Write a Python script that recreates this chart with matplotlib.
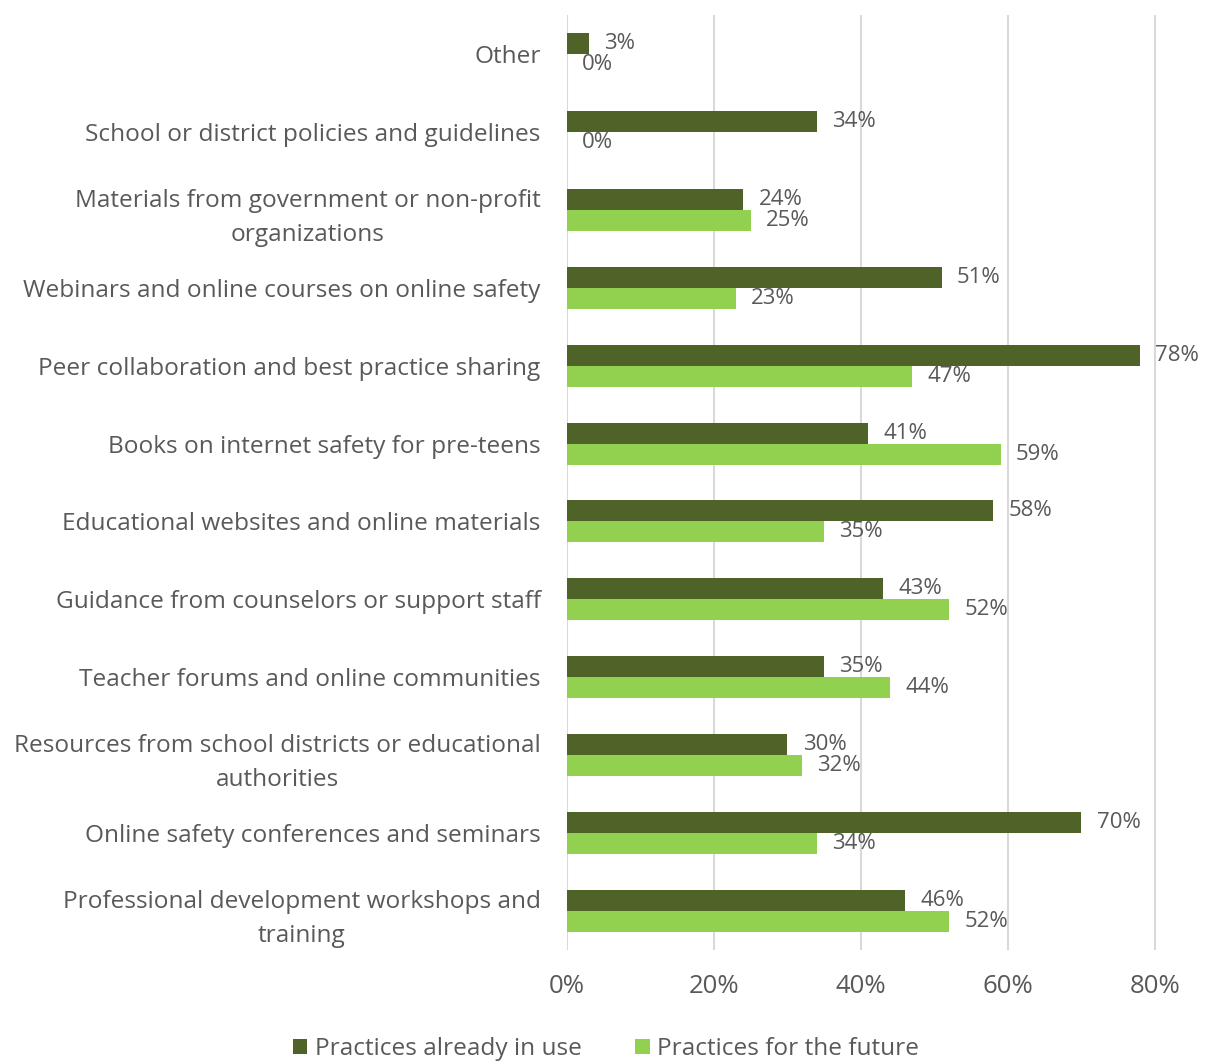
import matplotlib
matplotlib.use("Agg")
import matplotlib.pyplot as plt
import numpy as np
from matplotlib.ticker import FuncFormatter

plt.rcParams['font.family'] = ['Open Sans', 'DejaVu Sans']

categories = [
    "Other",
    "School or district policies and guidelines",
    "Materials from government or non-profit\norganizations",
    "Webinars and online courses on online safety",
    "Peer collaboration and best practice sharing",
    "Books on internet safety for pre-teens",
    "Educational websites and online materials",
    "Guidance from counselors or support staff",
    "Teacher forums and online communities",
    "Resources from school districts or educational\nauthorities",
    "Online safety conferences and seminars",
    "Professional development workshops and\ntraining",
]
in_use = [3, 34, 24, 51, 78, 41, 58, 43, 35, 30, 70, 46]
future = [0, 0, 25, 23, 47, 59, 35, 52, 44, 32, 34, 52]
series_names = ["Practices already in use", "Practices for the future"]
xticks = [0, 20, 40, 60, 80]

dark = "#4F6228"
light = "#92D050"
text_c = "#595959"
grid_c = "#D9D9D9"

fig = plt.figure(figsize=(12.08, 10.61), dpi=100)
ax = fig.add_axes([567 / 1208, 1 - 950 / 1061, (1160 - 567) / 1208, (950 - 15) / 1061])

y = np.arange(len(categories))
h = 0.27
b1 = ax.barh(y - h / 2, in_use, height=h, color=dark, label=series_names[0], zorder=3)
b2 = ax.barh(y + h / 2, future, height=h, color=light, label=series_names[1], zorder=3)

# value labels just past the end of each bar
for bars, vals in ((b1, in_use), (b2, future)):
    for bar, v in zip(bars, vals):
        ax.annotate(f"{v}%", (v, bar.get_y() + bar.get_height() / 2),
                    xytext=(11, 0), textcoords="offset points",
                    va="center", ha="left", fontsize=16, color=text_c)

ax.set_ylim(len(categories) - 0.5, -0.5)
ax.set_xlim(0, 80.7)
ax.set_xticks(xticks)
ax.xaxis.set_major_formatter(FuncFormatter(lambda v, p: f"{v:.0f}%"))
ax.set_yticks(y)
ax.set_yticklabels(categories, fontsize=17.6, color=text_c, ha="right",
                   multialignment="center", linespacing=1.55)
ax.tick_params(axis="y", length=0, pad=19)
ax.tick_params(axis="x", length=0, pad=17, labelsize=18.5, labelcolor=text_c)
ax.grid(axis="x", color=grid_c, linewidth=1.5, zorder=0)
for s in ax.spines.values():
    s.set_visible(False)

fig.legend(handles=[b1, b2], labels=series_names, loc="center", bbox_to_anchor=(606 / 1208, 1 - 1049 / 1061),
           ncol=2, frameon=False, fontsize=17.6, labelcolor=text_c, handlelength=0.6, handleheight=0.6,
           handletextpad=0.3, columnspacing=2.2)

fig.savefig("out.png", dpi=100)
